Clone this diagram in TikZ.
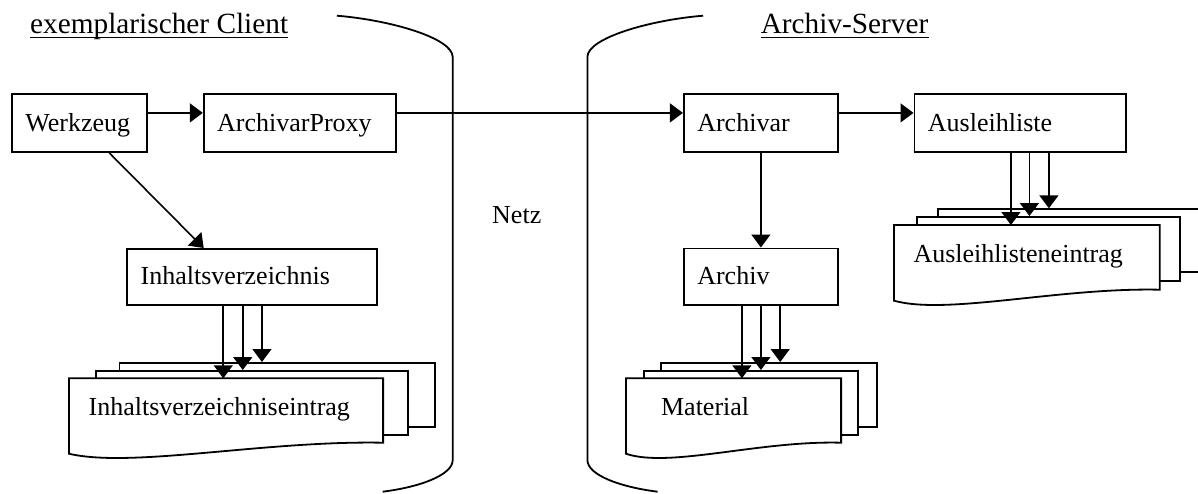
\documentclass[tikz,border=0pt]{standalone}
\usepackage{fontspec}
\setmainfont{Liberation Serif}
\usetikzlibrary{arrows.meta,calc}

\newcommand\bodyfont{\fontsize{26}{30}\selectfont}
\newcommand\titlefont{\fontsize{29.3}{34}\selectfont}

% front sheet of a stack: flat top, wavy bottom edge
\newcommand\docoutline[1]{%
  \draw[outl, fill=white] (#1.north west) -- (#1.north east) -- (#1.south east)
    .. controls ($(#1.south west)!0.62!(#1.south east)+(0,-2.3)$)
    and ($(#1.south west)!0.2!(#1.south east)+(0,25.7)$)
    .. ($(#1.south west)+(0,11)$) -- cycle;}

\begin{document}
\begin{tikzpicture}[x=1pt, y=-1pt,
  outl/.style={line width=1.8pt},
  cls/.style={draw, line width=1.8pt, anchor=north west, inner xsep=13.5pt,
    inner ysep=0pt, align=left, font=\bodyfont},
  upper/.style={text height=37.7pt, text depth=20.3pt},
  lower/.style={text height=35.8pt, text depth=21pt},
  arr/.style={line width=1.6pt, -{Triangle[length=13pt,width=19pt]}},
  sheet/.style={draw, fill=white, line width=1.8pt, anchor=north west, inner sep=0pt},
  frontsheet/.style={anchor=north west, inner sep=0pt},
  lbl/.style={anchor=base west, inner sep=0pt, font=\bodyfont},
  title/.style={anchor=base west, inner sep=0pt, font=\titlefont},
  uline/.style={line width=1.3pt}]

\useasboundingbox (0,0) rectangle (1198,493);

% network boundary: client side and server side
\draw[outl] (336.8,15.7) .. controls (390,20) and (452.7,38) .. (452.7,57)
  -- (452.7,460) .. controls (452.7,475) and (420,487) .. (382.7,491.7);
\draw[outl] (703.2,15.7) .. controls (650,20) and (587.4,38) .. (587.4,57)
  -- (587.4,460) .. controls (587.4,475) and (620,487) .. (657.6,491.7);

% titles
\node[title] (tclient) at (30,33.3) {exemplarischer Client};
\draw[uline] ([yshift=-4pt]tclient.base west) -- ([yshift=-4pt]tclient.base east);
\node[title] (tserver) at (760.6,33.3) {Archiv-Server};
\draw[uline] ([yshift=-4pt]tserver.base west) -- ([yshift=-4pt]tserver.base east);

\node[lbl] (netz) at (492,223.3) {Netz};

% client classes
\node[cls, upper, text width=108pt] (wz) at (11,93) {Werkzeug};
\node[cls, upper, text width=165.5pt] (ap) at (202.8,93) {ArchivarProxy};
\node[cls, lower, text width=222.5pt, text height=35.3pt] (iv) at (126.3,248) {Inhaltsverzeichnis};

% server classes
\node[cls, upper, text width=127.2pt] (ar) at (682.9,93) {Archivar};
\node[cls, upper, text width=184.6pt] (al) at (913.5,93) {Ausleihliste};
\node[cls, lower, text width=127.2pt] (av) at (682.9,247.5) {Archiv};

% stack: Inhaltsverzeichniseintrag
\node[sheet, minimum width=315.4pt, minimum height=63.7pt] (ie3) at (118.6,362) {};
\node[sheet, minimum width=312.3pt, minimum height=64pt] (ie2) at (94.9,370) {};
\node[frontsheet, minimum width=313.8pt, minimum height=64pt] (ie1) at (68.9,378.3) {};
\docoutline{ie1}
\node[lbl] (ie1t) at ($(ie1.north west)+(19.5,37.4)$) {Inhaltsverzeichniseintrag};

% stack: Material
\node[sheet, minimum width=216pt, minimum height=63.7pt] (m3) at (659.7,362) {};
\node[sheet, minimum width=213.6pt, minimum height=64pt] (m2) at (643.4,370) {};
\node[frontsheet, minimum width=214.8pt, minimum height=64pt] (m1) at (625.9,378.3) {};
\docoutline{m1}
\node[lbl] (m1t) at ($(m1.north west)+(35,37.4)$) {Material};

% stack: Ausleihlisteneintrag
\node[sheet, minimum width=283pt, minimum height=62.7pt] (a3) at (936.7,208.3) {};
\node[sheet, minimum width=263.3pt, minimum height=64pt] (a2) at (916,216) {};
\node[frontsheet, minimum width=265.3pt, minimum height=64.3pt] (a1) at (894,225) {};
\docoutline{a1}
\node[lbl] (a1t) at ($(a1.north west)+(19.3,37.3)$) {Ausleihlisteneintrag};

% associations
\draw[arr] ([yshift=10pt]wz.east) -- ([yshift=10pt]ap.west);
\draw[arr] ([yshift=10pt]ap.east) -- ([yshift=10pt]ar.west);
\draw[arr] ([yshift=10pt]ar.east) -- ([yshift=10pt]al.west);
\draw[arr] ([xshift=29.8pt]wz.south) -- ([xshift=-48.25pt]iv.north);
\draw[arr] (ar.south) -- (av.north);

\draw[arr] ([xshift=-28.7pt]iv.south) -- ([xshift=-28.7pt]iv.south |- ie1.north);
\draw[arr] ([xshift=-9.2pt]iv.south) -- ([xshift=-9.2pt]iv.south |- ie2.north);
\draw[arr] ([xshift=10pt]iv.south) -- ([xshift=10pt]iv.south |- ie3.north);

\draw[arr] ([xshift=-19pt]av.south) -- ([xshift=-19pt]av.south |- m1.north);
\draw[arr] (av.south) -- (av.south |- m2.north);
\draw[arr] ([xshift=19.3pt]av.south) -- ([xshift=19.3pt]av.south |- m3.north);

\draw[arr] ([xshift=-9.3pt]al.south) -- ([xshift=-9.3pt]al.south |- a1.north);
\draw[arr] ([xshift=9.2pt]al.south) -- ([xshift=9.2pt]al.south |- a2.north);
\draw[arr] ([xshift=28.7pt]al.south) -- ([xshift=28.7pt]al.south |- a3.north);
\end{tikzpicture}
\end{document}
